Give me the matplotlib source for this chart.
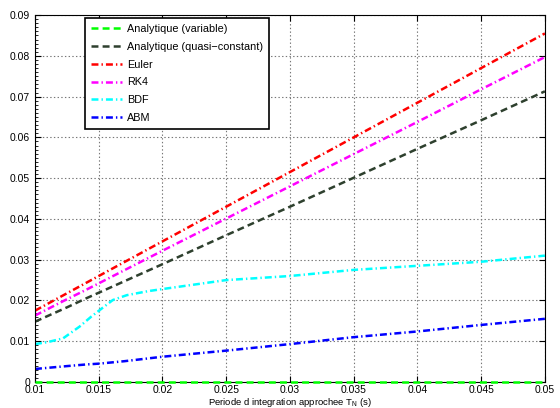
import numpy as np
import matplotlib
matplotlib.use("Agg")
import matplotlib.pyplot as plt
from matplotlib.ticker import AutoMinorLocator

T_N = [0.01, 0.0125, 0.014, 0.015, 0.016, 0.017, 0.02, 0.025, 0.03, 0.035, 0.04, 0.045, 0.05]
analytique_var = [0, 0, 0, 0, 0, 0, 0, 0, 0, 0, 0, 0, 0]
analytique_qc = [0.0148, 0.0183, 0.0205, 0.0219, 0.0233, 0.0247, 0.0289, 0.0360, 0.0430, 0.0501, 0.0572, 0.0642, 0.0713]
euler = [0.0175, 0.02175, 0.0243, 0.026, 0.0277, 0.0294, 0.0345, 0.043, 0.0515, 0.06, 0.0685, 0.077, 0.0855]
rk4 = [0.0163, 0.0203, 0.0226, 0.0242, 0.0258, 0.0274, 0.0322, 0.0401, 0.0480, 0.0559, 0.0638, 0.0718, 0.0797]
abm = [0.0032, 0.0039, 0.0043, 0.0045, 0.0048, 0.0051, 0.0062, 0.0077, 0.0093, 0.011, 0.0124, 0.014, 0.0155]

T_N_bdf = [0.01, 0.011, 0.0122, 0.0135, 0.0144, 0.0151, 0.0161, 0.0172, 0.0189, 0.02, 0.025, 0.03, 0.035, 0.04, 0.045, 0.05]
bdf = [0.0093, 0.0098, 0.0107, 0.0136, 0.0160, 0.0177, 0.0201, 0.0213, 0.0223, 0.0228, 0.025, 0.026, 0.0275, 0.0285, 0.0295, 0.031]

plt.rcParams['font.family'] = ['Liberation Sans', 'DejaVu Sans']
plt.rcParams['lines.scale_dashes'] = False

dash = (0, (5, 3))
dashdot = (0, (5, 2.2, 1, 2.2))

fig = plt.figure(figsize=(5.6, 4.08), dpi=100)
ax = fig.add_axes([0.0625, 0.0637, 0.9105, 0.8993])

ax.plot(T_N, analytique_var, linestyle=dash, color=(0, 1, 0), lw=1.8, label='Analytique (variable)', zorder=5, clip_on=False)
ax.plot(T_N, analytique_qc, linestyle=dash, color='#2e402e', lw=1.8, label='Analytique (quasi\u2212constant)')
ax.plot(T_N, euler, linestyle=dashdot, color='red', lw=1.8, label='Euler')
ax.plot(T_N, rk4, linestyle=dashdot, color='magenta', lw=1.8, label='RK4')
ax.plot(T_N_bdf, bdf, linestyle=dashdot, color='cyan', lw=1.8, label='BDF')
ax.plot(T_N, abm, linestyle=dashdot, color='blue', lw=1.8, label='ABM')

ax.set_xlim(0.01, 0.05)
ax.set_ylim(0, 0.09)
ax.set_xticks([0.01, 0.015, 0.02, 0.025, 0.03, 0.035, 0.04, 0.045, 0.05])
ax.set_xticklabels(['0.01', '0.015', '0.02', '0.025', '0.03', '0.035', '0.04', '0.045', '0.05'])
ax.set_yticks(np.arange(0, 0.0901, 0.01))
ax.set_yticklabels(['0', '0.01', '0.02', '0.03', '0.04', '0.05', '0.06', '0.07', '0.08', '0.09'])
ax.yaxis.set_minor_locator(AutoMinorLocator(10))
ax.tick_params(direction='in', labelsize=7.5, length=4, top=True, right=True)
ax.tick_params(axis='x', pad=2)
ax.tick_params(which='minor', direction='in', length=2, left=True, right=False)
ax.grid(True, linestyle=':', color='#777777', lw=0.8)
ax.set_xlabel('Periode d integration approchee T$_\\mathregular{N}$ (s)', fontsize=6.8)
ax.xaxis.set_label_coords(0.5, -0.037)

leg = ax.legend(loc='upper left', bbox_to_anchor=(0.098, 0.992), borderaxespad=0, fontsize=7.8,
                fancybox=False, framealpha=1, edgecolor='black', handlelength=2.9,
                handletextpad=0.45, borderpad=0.55, labelspacing=0.72)
leg.get_frame().set_linewidth(1.2)

fig.savefig('out.png', dpi=100)
